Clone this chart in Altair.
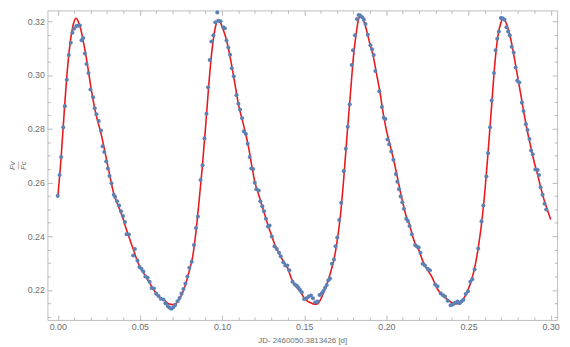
import altair as alt
import pandas as pd

# ---- observed photometry (time [d], flux ratio) ----
pt_x = [0.0000, 0.0011, 0.0021, 0.0033, 0.0043, 0.0055, 0.0067, 0.0079, 0.0089, 0.0099,
        0.0113, 0.0125, 0.0135, 0.0145, 0.0155, 0.0165, 0.0175, 0.0187, 0.0199, 0.0215,
        0.0225, 0.0235, 0.0249, 0.0263, 0.0273, 0.0283, 0.0295, 0.0305, 0.0315, 0.0327,
        0.0341, 0.0349, 0.0361, 0.0373, 0.0385, 0.0397, 0.0409, 0.0419, 0.0433, 0.0459,
        0.0469, 0.0485, 0.0497, 0.0509, 0.0521, 0.0533, 0.0547, 0.0559, 0.0571, 0.0585,
        0.0599, 0.0613, 0.0627, 0.0643, 0.0655, 0.0669, 0.0679, 0.0691, 0.0703, 0.0715,
        0.0729, 0.0741, 0.0753, 0.0765, 0.0777, 0.0789, 0.0801, 0.0815, 0.0829, 0.0841,
        0.0853, 0.0869, 0.0881, 0.0893, 0.0905, 0.0915, 0.0925, 0.0935, 0.0947, 0.0959,
        0.0971, 0.0977, 0.0991, 0.1007, 0.1017, 0.1027, 0.1038, 0.1049, 0.1059, 0.1071,
        0.1088, 0.1099, 0.1109, 0.1122, 0.1133, 0.1145, 0.1156, 0.1168, 0.1178, 0.1189,
        0.1199, 0.1209, 0.1223, 0.1233, 0.1245, 0.1255, 0.1267, 0.1279, 0.1289, 0.1303,
        0.1319, 0.1333, 0.1347, 0.1357, 0.1373, 0.1385, 0.1397, 0.1409, 0.1429, 0.1443,
        0.1455, 0.1465, 0.1475, 0.1485, 0.1499, 0.1513, 0.1527, 0.1541, 0.1553, 0.1567,
        0.1581, 0.1593, 0.1607, 0.1617, 0.1627, 0.1637, 0.1647, 0.1657, 0.1669, 0.1681,
        0.1691, 0.1701, 0.1713, 0.1725, 0.1741, 0.1753, 0.1765, 0.1777, 0.1789, 0.1797,
        0.1809, 0.1821, 0.1831, 0.1841, 0.1853, 0.1863, 0.1873, 0.1887, 0.1903, 0.1913,
        0.1923, 0.1933, 0.1957, 0.1973, 0.1984, 0.1994, 0.2007, 0.2017, 0.2030, 0.2043,
        0.2058, 0.2067, 0.2077, 0.2087, 0.2097, 0.2107, 0.2121, 0.2131, 0.2141, 0.2155,
        0.2175, 0.2185, 0.2197, 0.2207, 0.2221, 0.2235, 0.2251, 0.2265, 0.2297, 0.2311,
        0.2331, 0.2345, 0.2357, 0.2373, 0.2391, 0.2405, 0.2419, 0.2433, 0.2445, 0.2457,
        0.2469, 0.2483, 0.2497, 0.2511, 0.2523, 0.2537, 0.2559, 0.2579, 0.2590, 0.2609,
        0.2619, 0.2631, 0.2641, 0.2655, 0.2665, 0.2675, 0.2685, 0.2697, 0.2707, 0.2719,
        0.2731, 0.2741, 0.2751, 0.2763, 0.2775, 0.2787, 0.2797, 0.2809, 0.2825, 0.2835,
        0.2849, 0.2859, 0.2871, 0.2881, 0.2891, 0.2907, 0.2921, 0.2929, 0.2939, 0.2951,
        0.2963, 0.2973]
pt_y = [0.2550, 0.2628, 0.2695, 0.2805, 0.2884, 0.2982, 0.3074, 0.3120, 0.3157, 0.3172,
        0.3182, 0.3184, 0.3184, 0.3129, 0.3138, 0.3080, 0.3041, 0.3007, 0.2946, 0.2917,
        0.2876, 0.2854, 0.2829, 0.2793, 0.2735, 0.2713, 0.2678, 0.2652, 0.2624, 0.2597,
        0.2554, 0.2546, 0.2530, 0.2514, 0.2493, 0.2475, 0.2453, 0.2407, 0.2406, 0.2328,
        0.2352, 0.2309, 0.2285, 0.2279, 0.2268, 0.2250, 0.2245, 0.2230, 0.2207, 0.2205,
        0.2186, 0.2177, 0.2167, 0.2164, 0.2150, 0.2140, 0.2134, 0.2130, 0.2135, 0.2144,
        0.2158, 0.2170, 0.2186, 0.2203, 0.2224, 0.2250, 0.2282, 0.2305, 0.2367, 0.2430,
        0.2473, 0.2609, 0.2664, 0.2764, 0.2856, 0.2954, 0.3056, 0.3125, 0.3148, 0.3196,
        0.3233, 0.3202, 0.3200, 0.3178, 0.3174, 0.3128, 0.3102, 0.3075, 0.3025, 0.2995,
        0.2925, 0.2893, 0.2871, 0.2839, 0.2790, 0.2780, 0.2744, 0.2695, 0.2652, 0.2650,
        0.2599, 0.2575, 0.2570, 0.2530, 0.2511, 0.2493, 0.2465, 0.2436, 0.2440, 0.2399,
        0.2362, 0.2352, 0.2338, 0.2325, 0.2303, 0.2291, 0.2291, 0.2273, 0.2230, 0.2220,
        0.2215, 0.2208, 0.2199, 0.2191, 0.2166, 0.2169, 0.2175, 0.2179, 0.2169, 0.2154,
        0.2157, 0.2181, 0.2187, 0.2196, 0.2208, 0.2218, 0.2236, 0.2242, 0.2297, 0.2313,
        0.2362, 0.2395, 0.2460, 0.2524, 0.2642, 0.2725, 0.2807, 0.2891, 0.3037, 0.3092,
        0.3148, 0.3208, 0.3223, 0.3221, 0.3215, 0.3206, 0.3190, 0.3150, 0.3111, 0.3096,
        0.3074, 0.3015, 0.2939, 0.2881, 0.2841, 0.2836, 0.2760, 0.2742, 0.2715, 0.2684,
        0.2631, 0.2603, 0.2575, 0.2548, 0.2526, 0.2502, 0.2465, 0.2456, 0.2438, 0.2407,
        0.2367, 0.2362, 0.2358, 0.2338, 0.2297, 0.2291, 0.2279, 0.2273, 0.2220, 0.2213,
        0.2187, 0.2180, 0.2175, 0.2160, 0.2143, 0.2146, 0.2152, 0.2157, 0.2150, 0.2157,
        0.2163, 0.2185, 0.2195, 0.2230, 0.2240, 0.2276, 0.2354, 0.2455, 0.2514, 0.2622,
        0.2709, 0.2805, 0.2905, 0.3007, 0.3092, 0.3135, 0.3162, 0.3212, 0.3211, 0.3206,
        0.3178, 0.3162, 0.3148, 0.3105, 0.3084, 0.3028, 0.2979, 0.2972, 0.2897, 0.2866,
        0.2817, 0.2795, 0.2762, 0.2719, 0.2705, 0.2648, 0.2646, 0.2628, 0.2582, 0.2554,
        0.2521, 0.2499]

# ---- fitted model curve ----
fit_x = [0.000, 0.002, 0.004, 0.006, 0.008, 0.010, 0.011, 0.012, 0.014, 0.016,
         0.018, 0.020, 0.022, 0.024, 0.026, 0.028, 0.030, 0.032, 0.034, 0.036,
         0.038, 0.040, 0.042, 0.044, 0.046, 0.048, 0.050, 0.052, 0.054, 0.056,
         0.058, 0.060, 0.062, 0.064, 0.066, 0.068, 0.070, 0.072, 0.074, 0.076,
         0.078, 0.080, 0.082, 0.084, 0.086, 0.088, 0.090, 0.092, 0.094, 0.096,
         0.097, 0.098, 0.099, 0.100, 0.102, 0.104, 0.106, 0.108, 0.110, 0.112,
         0.114, 0.116, 0.118, 0.120, 0.122, 0.124, 0.126, 0.128, 0.130, 0.132,
         0.134, 0.136, 0.138, 0.140, 0.142, 0.144, 0.146, 0.148, 0.150, 0.152,
         0.154, 0.156, 0.158, 0.160, 0.162, 0.164, 0.166, 0.168, 0.170, 0.172,
         0.174, 0.176, 0.178, 0.180, 0.182, 0.183, 0.184, 0.185, 0.186, 0.188,
         0.190, 0.192, 0.194, 0.196, 0.198, 0.200, 0.202, 0.204, 0.206, 0.208,
         0.210, 0.212, 0.214, 0.216, 0.218, 0.220, 0.222, 0.224, 0.226, 0.228,
         0.230, 0.232, 0.234, 0.236, 0.238, 0.240, 0.242, 0.244, 0.246, 0.248,
         0.250, 0.252, 0.254, 0.256, 0.258, 0.260, 0.262, 0.264, 0.266, 0.268,
         0.270, 0.2705, 0.271, 0.272, 0.274, 0.276, 0.278, 0.280, 0.282, 0.284,
         0.286, 0.288, 0.290, 0.292, 0.294, 0.296, 0.298, 0.300]
fit_y = [0.2545, 0.2690, 0.2870, 0.3030, 0.3140, 0.3200, 0.3211, 0.3205, 0.3170, 0.3110,
         0.3040, 0.2960, 0.2890, 0.2835, 0.2790, 0.2735, 0.2675, 0.2615, 0.2560, 0.2525,
         0.2495, 0.2460, 0.2420, 0.2385, 0.2350, 0.2315, 0.2285, 0.2265, 0.2245, 0.2225,
         0.2205, 0.2185, 0.2172, 0.2165, 0.2155, 0.2147, 0.2145, 0.2150, 0.2165, 0.2190,
         0.2225, 0.2270, 0.2320, 0.2410, 0.2530, 0.2660, 0.2810, 0.2970, 0.3100, 0.3180,
         0.3198, 0.3200, 0.3195, 0.3180, 0.3145, 0.3095, 0.3030, 0.2960, 0.2890, 0.2840,
         0.2790, 0.2735, 0.2665, 0.2600, 0.2560, 0.2520, 0.2480, 0.2440, 0.2405, 0.2370,
         0.2345, 0.2320, 0.2300, 0.2280, 0.2245, 0.2220, 0.2205, 0.2190, 0.2170, 0.2158,
         0.2152, 0.2147, 0.2148, 0.2165, 0.2192, 0.2225, 0.2265, 0.2310, 0.2380, 0.2475,
         0.2610, 0.2770, 0.2920, 0.3070, 0.3170, 0.3205, 0.3218, 0.3215, 0.3205, 0.3165,
         0.3115, 0.3070, 0.3005, 0.2940, 0.2860, 0.2795, 0.2745, 0.2695, 0.2640, 0.2580,
         0.2525, 0.2475, 0.2445, 0.2400, 0.2365, 0.2345, 0.2310, 0.2285, 0.2265, 0.2245,
         0.2215, 0.2195, 0.2180, 0.2170, 0.2160, 0.2152, 0.2148, 0.2150, 0.2160, 0.2178,
         0.2205, 0.2240, 0.2290, 0.2360, 0.2450, 0.2570, 0.2720, 0.2880, 0.3040, 0.3150,
         0.3200, 0.3210, 0.3212, 0.3205, 0.3175, 0.3125, 0.3060, 0.2990, 0.2920, 0.2850,
         0.2785, 0.2730, 0.2675, 0.2630, 0.2580, 0.2535, 0.2498, 0.2462]

# ---- ticks ----
x_major = [0.00, 0.05, 0.10, 0.15, 0.20, 0.25, 0.30]
x_minor = [0.01, 0.02, 0.03, 0.04, 0.06, 0.07, 0.08, 0.09, 0.11, 0.12, 0.13, 0.14,
           0.16, 0.17, 0.18, 0.19, 0.21, 0.22, 0.23, 0.24, 0.26, 0.27, 0.28, 0.29]
y_major = [0.22, 0.24, 0.26, 0.28, 0.30, 0.32]
y_minor = [0.21, 0.215, 0.225, 0.23, 0.235, 0.245, 0.25, 0.255, 0.265, 0.27, 0.275,
           0.285, 0.29, 0.295, 0.305, 0.31, 0.315]

pts = pd.DataFrame({"t": pt_x, "f": pt_y})
fit = pd.DataFrame({"t": fit_x, "f": fit_y})

xs = alt.Scale(domain=[-0.0063, 0.3039], nice=False, zero=False)
ys = alt.Scale(domain=[0.20881, 0.32404], nice=False, zero=False)

TICK = "#a8a8a8"
LABEL = "#6e6e6e"
FONT = "Liberation Sans"


def ax(orient, values, size, **kw):
    base = dict(orient=orient, values=values, tickSize=size, offset=-size,
                domain=False, grid=False, tickColor=TICK, tickWidth=0.8)
    if "labels" not in kw:
        base["labels"] = False
        base["title"] = None
    base.update(kw)
    return alt.Axis(**base)


lab = dict(labels=True, format=".2f", labelColor=LABEL, labelFont=FONT,
           labelFontSize=9, labelFlush=False, labelOverlap=False)

line = alt.Chart(fit).mark_line(color="#e8191c", strokeWidth=1.6, interpolate="monotone").encode(
    x=alt.X("t:Q", scale=xs, axis=ax("bottom", x_minor, 3)),
    y=alt.Y("f:Q", scale=ys, axis=ax("left", y_minor, 3)),
)

points = alt.Chart(pts).mark_circle(size=17, color="#5e81b5", opacity=1).encode(
    x=alt.X("t:Q", scale=xs, axis=ax("bottom", x_major, 5, labelPadding=3,
                                       title="JD- 2460050.3813426 [d]", titleFont=FONT,
                                       titleFontSize=8, titleFontWeight="normal",
                                       titleColor=LABEL, titlePadding=5, **lab)),
    y=alt.Y("f:Q", scale=ys, axis=ax("left", y_major, 5, labelPadding=3,
                                       title=["F\u1d20", "\u2014", "F\u1d04"], titleFont=FONT,
                                       titleFontSize=8, titleFontWeight="normal",
                                       titleFontStyle="italic", titleLineHeight=5.5,
                                       titleColor=LABEL, titlePadding=0, **lab)),
)

ghost_major = alt.Chart(fit).mark_line(strokeOpacity=0).encode(
    x=alt.X("t:Q", scale=xs, axis=ax("top", x_major, 5)),
    y=alt.Y("f:Q", scale=ys, axis=ax("right", y_major, 5)),
)
ghost_minor = alt.Chart(fit).mark_line(strokeOpacity=0).encode(
    x=alt.X("t:Q", scale=xs, axis=ax("top", x_minor, 3)),
    y=alt.Y("f:Q", scale=ys, axis=ax("right", y_minor, 3)),
)

chart = alt.layer(line, points, ghost_major, ghost_minor).resolve_axis(
    x="independent", y="independent"
).properties(
    width=517, height=314,
    autosize=alt.AutoSizeParams(type="none"),
    padding={"left": 40, "top": 0, "right": 5, "bottom": 25},
    background="white",
).configure_view(stroke="#bdbdbd", strokeWidth=1)

chart.save("out.html", embed_options={"renderer": "svg", "actions": False})
